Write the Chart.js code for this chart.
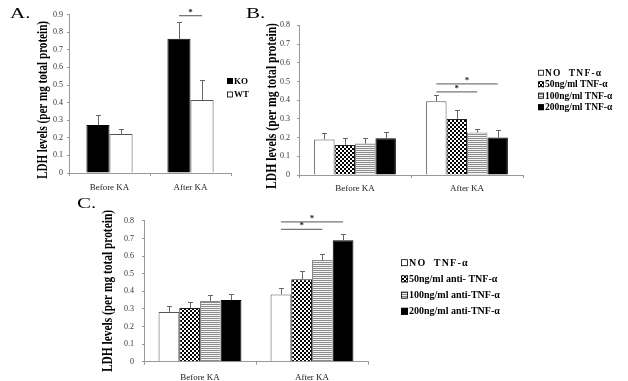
<!DOCTYPE html>
<html><head><meta charset="utf-8">
<script src="https://cdn.jsdelivr.net/npm/chart.js@4/dist/chart.umd.min.js"></script>
<style>
html,body{margin:0;padding:0;background:#fff;width:628px;height:381px;overflow:hidden}
canvas{position:absolute;left:0;top:0}
</style></head><body>
<canvas id="ca" width="628" height="400"></canvas>
<canvas id="cb" width="628" height="400"></canvas>
<canvas id="cc" width="628" height="400"></canvas>
<script>
// ---------- data ----------
const categories = ['Before KA', 'After KA'];
const yTitle = 'LDH levels (per mg total protein)';

// Panel A
const aSeries = ['KO', 'WT'];
const aKO = [0.273, 0.763];
const aKOerr = [0.057, 0.093];
const aWT = [0.222, 0.415];
const aWTerr = [0.027, 0.113];
const aTickLabels = ['0', '0.1', '0.2', '0.3', '0.4', '0.5', '0.6', '0.7', '0.8', '0.9'];
const aSig = [{cat: 1, from: 0, to: 1, level: 0.894}];

// Panel B
const bSeries = ['NO  TNF-α', '50ng/ml TNF-α', '100ng/ml TNF-α', '200ng/ml TNF-α'];
const bNo = [0.19, 0.395];
const bNoErr = [0.033, 0.035];
const b50 = [0.16, 0.30];
const b50Err = [0.04, 0.048];
const b100 = [0.168, 0.227];
const b100Err = [0.028, 0.019];
const b200 = [0.196, 0.20];
const b200Err = [0.032, 0.039];
const bTickLabels = ['0', '0.1', '0.2', '0.3', '0.4', '0.5', '0.6', '0.7', '0.8'];
const bSig = [{cat: 1, from: 0, to: 3, level: 0.487}, {cat: 1, from: 0, to: 2, level: 0.444}];

// Panel C
const cSeries = ['NO  TNF-α', '50ng/ml anti- TNF-α', '100ng/ml anti-TNF-α', '200ng/ml anti-TNF-α'];
const cNo = [0.283, 0.382];
const cNoErr = [0.035, 0.038];
const c50 = [0.305, 0.468];
const c50Err = [0.036, 0.049];
const c100 = [0.345, 0.578];
const c100Err = [0.035, 0.034];
const c200 = [0.35, 0.69];
const c200Err = [0.033, 0.038];
const cTickLabels = ['0', '0.1', '0.2', '0.3', '0.4', '0.5', '0.6', '0.7', '0.8'];
const cSig = [{cat: 1, from: 0, to: 3, level: 0.794}, {cat: 1, from: 0, to: 2, level: 0.752}];

// ---------- styles ----------
const SERIF = '"Liberation Serif", "Times New Roman", serif';
const CW = 628, CH = 400;
const refCtx = document.getElementById('ca').getContext('2d');
function makePattern(type) {
  const c = document.createElement('canvas');
  const g = c.getContext('2d');
  if (type === 'check') {
    c.width = 4; c.height = 4;
    g.fillStyle = '#fff'; g.fillRect(0, 0, 4, 4);
    g.fillStyle = '#000'; g.fillRect(0, 0, 2, 2); g.fillRect(2, 2, 2, 2);
  } else {
    c.width = 2; c.height = 2;
    g.fillStyle = '#f4f4f4'; g.fillRect(0, 0, 2, 2);
    g.fillStyle = '#8c8c8c'; g.fillRect(0, 0, 2, 1);
  }
  return refCtx.createPattern(c, 'repeat');
}
const CHECK = makePattern('check');
const STRIPE = makePattern('stripe');

function decor(p) {
  return {
    id: 'decor_' + p.id,
    afterDatasetsDraw(chart) {
      const ctx = chart.ctx, ys = chart.scales.y;
      chart.data.datasets.forEach((ds, i) => {
        const meta = chart.getDatasetMeta(i);
        meta.data.forEach((bar, j) => {
          const top = Math.round(ys.getPixelForValue(ds.data[j] + ds.errors[j])) + 0.5;
          const x = Math.round(bar.x) + 0.5;
          ctx.save();
          ctx.strokeStyle = '#666'; ctx.lineWidth = 1;
          ctx.beginPath();
          ctx.moveTo(x, bar.y); ctx.lineTo(x, top);
          ctx.moveTo(x - 2.5, top); ctx.lineTo(x + 2.5, top);
          ctx.stroke();
          ctx.restore();
        });
      });
      p.sig.forEach(s => {
        const x1 = chart.getDatasetMeta(s.from).data[s.cat].x;
        const x2 = chart.getDatasetMeta(s.to).data[s.cat].x;
        const y = ys.getPixelForValue(s.level);
        ctx.save();
        ctx.strokeStyle = '#777'; ctx.lineWidth = 1.3;
        ctx.beginPath(); ctx.moveTo(x1, y); ctx.lineTo(x2, y); ctx.stroke();
        ctx.fillStyle = '#222'; ctx.font = 'bold 9px ' + SERIF;
        ctx.textAlign = 'center'; ctx.textBaseline = 'alphabetic';
        ctx.fillText('*', (x1 + x2) / 2, y - 1);
        ctx.restore();
      });
    },
    afterDraw(chart) {
      const ctx = chart.ctx;
      ctx.save();
      ctx.font = 'bold 14px ' + SERIF;
      const w = ctx.measureText(yTitle).width;
      ctx.translate(p.title.x, p.title.y);
      ctx.rotate(-Math.PI / 2);
      ctx.scale(p.title.len / w, 1);
      ctx.fillStyle = '#000'; ctx.textAlign = 'center'; ctx.textBaseline = 'middle';
      ctx.fillText(yTitle, 0, 0);
      ctx.restore();
      ctx.save();
      ctx.font = '21px ' + SERIF;
      ctx.translate(p.letter.x, p.letter.y);
      ctx.scale(1, 0.7);
      ctx.fillStyle = '#000'; ctx.textBaseline = 'alphabetic';
      ctx.fillText(p.letter.text, 0, 0);
      ctx.restore();
      const L = p.legend;
      chart.data.datasets.forEach((ds, i) => {
        const cy = L.y + i * L.gap;
        ctx.save();
        ctx.fillStyle = ds.backgroundColor;
        ctx.fillRect(L.x, cy - L.box / 2, L.box, L.box);
        ctx.strokeStyle = '#000'; ctx.lineWidth = 0.8;
        ctx.strokeRect(L.x + 0.5, cy - L.box / 2 + 0.5, L.box - 1, L.box - 1);
        ctx.fillStyle = '#000';
        ctx.font = 'bold ' + L.size + 'px ' + SERIF;
        ctx.textBaseline = 'middle';
        if (i === 0 && L.space) ctx.letterSpacing = L.space;
        ctx.fillText(ds.label, L.tx, cy + 0.5);
        ctx.restore();
      });
    }
  };
}

function panelChart(p) {
  const yW = 30, xH = 25;
  const a = p.area;
  return new Chart(document.getElementById(p.id), {
    type: 'bar',
    data: {
      labels: categories,
      datasets: p.series.map((name, i) => ({
        label: name,
        data: p.values[i],
        errors: p.errors[i],
        backgroundColor: p.fills[i],
        borderColor: p.borders[i],
        borderWidth: 1,
        categoryPercentage: p.catPct,
        barPercentage: 1.0
      }))
    },
    options: {
      responsive: false,
      animation: false,
      events: [],
      layout: {padding: {left: a.left - yW, right: CW - a.right, top: a.top, bottom: CH - a.bottom - xH}},
      plugins: {legend: {display: false}, tooltip: {enabled: false}},
      scales: {
        x: {
          grid: {display: true, drawOnChartArea: false, color: '#999', tickLength: 3, offset: true},
          border: {color: '#999'},
          ticks: {font: {family: SERIF, size: 9}, color: '#222', padding: p.xPad, maxRotation: 0},
          afterFit: s => { s.height = xH; }
        },
        y: {
          min: 0, max: p.max,
          grid: {display: true, drawOnChartArea: false, color: '#999', tickLength: 2},
          border: {color: '#999'},
          ticks: {stepSize: 0.1, autoSkip: false, font: {family: SERIF, size: 8}, color: '#333', padding: p.yPad,
                  callback: (v, i) => p.tickLabels[i]},
          afterFit: s => { s.width = yW; }
        }
      }
    },
    plugins: [decor(p)]
  });
}

panelChart({
  id: 'ca', series: aSeries, values: [aKO, aWT], errors: [aKOerr, aWTerr],
  fills: ['#000', '#fff'], borders: ['#000', '#555'], catPct: 0.57,
  area: {left: 69, right: 231, top: 14.6, bottom: 173}, max: 0.9, tickLabels: aTickLabels,
  xPad: 6, yPad: 4, sig: aSig,
  title: {x: 43, y: 100, len: 158},
  letter: {text: 'A.', x: 10, y: 18},
  legend: {x: 227, tx: 234, y: 81, gap: 13.5, box: 6, size: 9}
});
panelChart({
  id: 'cb', series: bSeries, values: [bNo, b50, b100, b200], errors: [bNoErr, b50Err, b100Err, b200Err],
  fills: ['#fff', CHECK, STRIPE, '#000'], borders: ['#555', '#222', '#888', '#000'], catPct: 0.73,
  area: {left: 299, right: 523, top: 25.4, bottom: 175}, max: 0.8, tickLabels: bTickLabels,
  xPad: 5, yPad: 7, sig: bSig,
  title: {x: 272, y: 106, len: 166},
  letter: {text: 'B.', x: 246, y: 18},
  legend: {x: 538, tx: 545, y: 72.7, gap: 11.5, box: 6, size: 9.5, space: '1.2px'}
});
panelChart({
  id: 'cc', series: cSeries, values: [cNo, c50, c100, c200], errors: [cNoErr, c50Err, c100Err, c200Err],
  fills: ['#fff', CHECK, STRIPE, '#000'], borders: ['#555', '#222', '#888', '#000'], catPct: 0.74,
  area: {left: 144, right: 368, top: 220.9, bottom: 361.7}, max: 0.8, tickLabels: cTickLabels,
  xPad: 8, yPad: 8, sig: cSig,
  title: {x: 108, y: 291, len: 162},
  letter: {text: 'C.', x: 77, y: 208},
  legend: {x: 401, tx: 409, y: 262.7, gap: 16.2, box: 7, size: 10, space: '1.2px'}
});
</script>
</body></html>
